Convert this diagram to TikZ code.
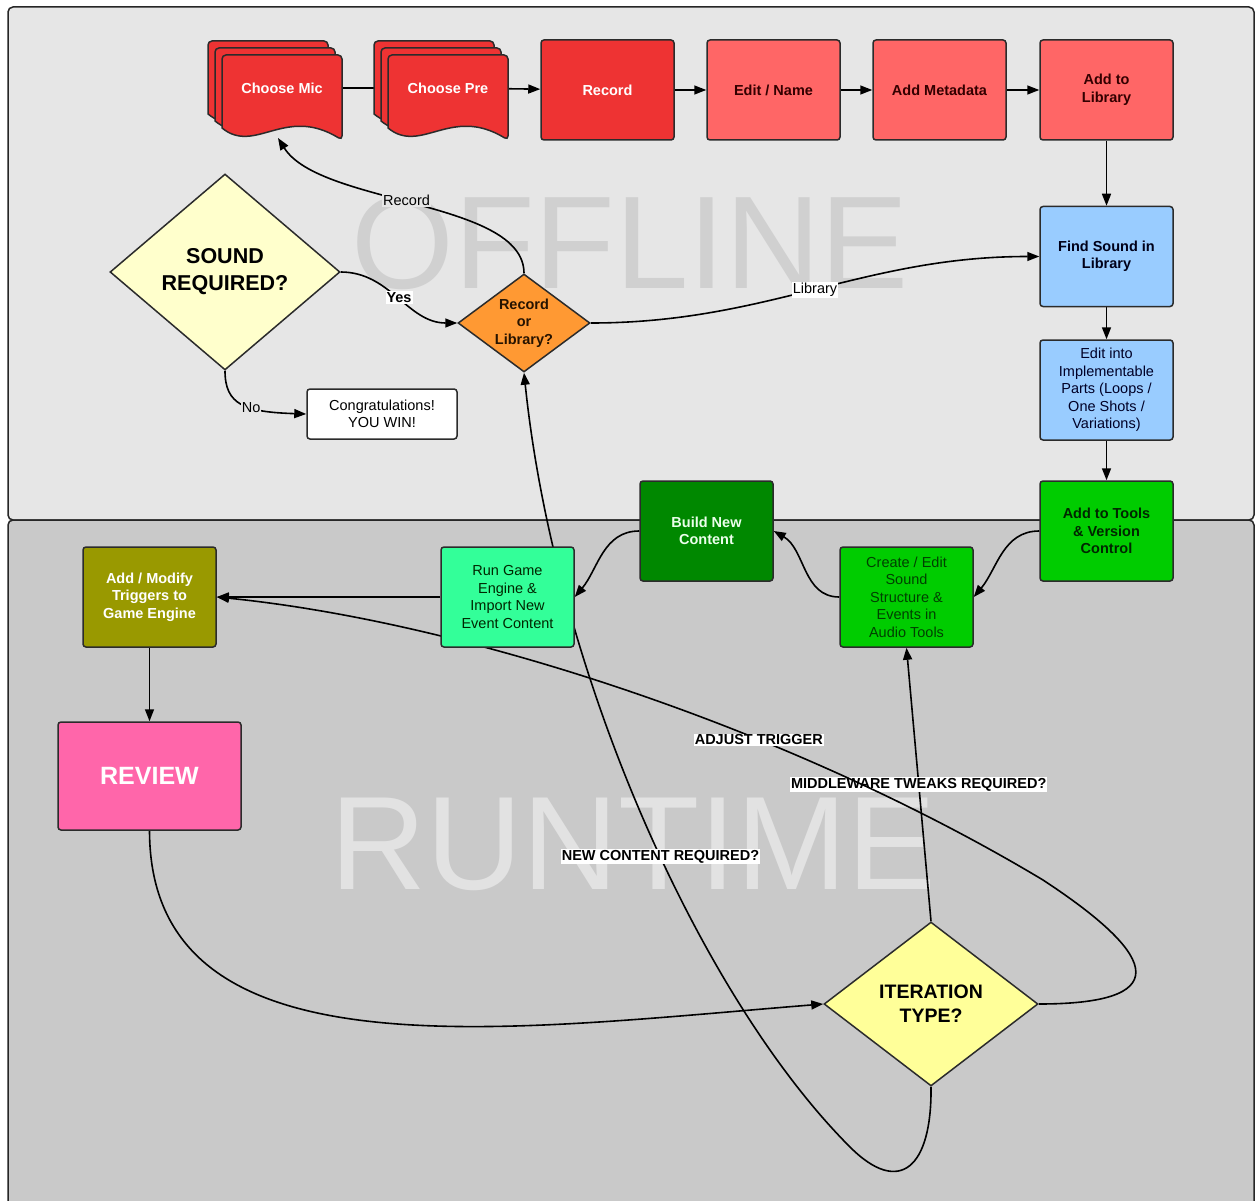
\documentclass[tikz,border=0pt]{standalone}
\usepackage{fontspec}
\setmainfont{Liberation Sans}
\usetikzlibrary{shapes.geometric,arrows.meta}
\pgfdeclarelayer{bg}
\pgfdeclarelayer{fg}
\pgfsetlayers{bg,main,fg}

\definecolor{offbg}{HTML}{E6E6E6}
\definecolor{runbg}{HTML}{C9C9C9}
\definecolor{offmark}{HTML}{D0D0D0}
\definecolor{runmark}{HTML}{E2E2E2}
\definecolor{redbox}{HTML}{EE3333}
\definecolor{salmonbox}{HTML}{FF6666}
\definecolor{bluebox}{HTML}{99CCFF}
\definecolor{greenbox}{HTML}{00CC00}
\definecolor{darkgreenbox}{HTML}{008800}
\definecolor{mintbox}{HTML}{33FF99}
\definecolor{olivebox}{HTML}{999900}
\definecolor{pinkbox}{HTML}{FF66AA}
\definecolor{orangebox}{HTML}{FF9933}
\definecolor{paleyellow}{HTML}{FFFFCC}
\definecolor{yellowbox}{HTML}{FFFF99}
\definecolor{boxline}{HTML}{2B2B2B}

\newcommand{\boxfont}{\fontsize{14.5}{17.5}\selectfont}

\tikzset{
    box/.style={rectangle, rounded corners=3pt, draw=boxline, line width=1.5pt,
        minimum width=133pt, minimum height=100pt, align=center, font=\boxfont},
    boldbox/.style={box, font=\boxfont\bfseries},
    decision/.style={diamond, draw=boxline, line width=1.5pt, align=center, inner sep=0pt},
    docnode/.style={minimum width=120pt, inner sep=0pt, text=white, font=\boxfont\bfseries},
    docshape/.style={fill=redbox, draw=boxline, line width=1.5pt},
    panel/.style={draw=black!85, line width=1.5pt, rounded corners=5pt},
    arr/.style={black, line width=1.6pt, -{Triangle[length=12pt,width=9pt]}},
    lbl/.style={fill=white, inner sep=1pt, font=\boxfont},
}

\begin{document}
\begin{tikzpicture}[x=1pt, y=-1pt]
    \useasboundingbox (0,0) rectangle (1255,1201);

    \begin{pgfonlayer}{bg}
        \fill[white] (0,0) rectangle (1255,1201);
        \draw[panel, fill=offbg] (8,7) rectangle (1254,520);
        \draw[panel, fill=runbg] (8,520) rectangle (1254,1215);
        \node[font=\fontsize{132}{132}\selectfont, text=offmark, inner sep=0pt] (offlinetitle) at (630,243) {OFFLINE};
        \node[font=\fontsize{133}{133}\selectfont, text=runmark, inner sep=0pt] (runtimetitle) at (633,844) {RUNTIME};
    \end{pgfonlayer}

    % stacked documents
    \foreach \x in {222,388} {
        \foreach \d in {14,7,0} {
            \draw[docshape] ({\x-\d},{128-\d}) [rounded corners=4pt] -- ({\x-\d},{55-\d}) -- ({\x-\d+120},{55-\d})
                -- ({\x-\d+120},{140-\d}) [sharp corners] .. controls ({\x-\d+63},{105-\d}) and ({\x-\d+33},{155-\d}) .. ({\x-\d},{128-\d}) -- cycle;
        }
    }

    \node[docnode] (mic) at (282,88) {Choose Mic};
    \node[docnode] (pre) at (448,88) {Choose Pre};
    \coordinate (micfoot) at (278,138);
    \node[boldbox, fill=redbox, text=white] (rec) at (607.5,90) {Record};
    \node[boldbox, fill=salmonbox, text=black!80!red] (editname) at (773.5,90) {Edit / Name};
    \node[boldbox, fill=salmonbox, text=black!80!red] (meta) at (939.5,90) {Add Metadata};
    \node[boldbox, fill=salmonbox, text=black!80!red] (addlib) at (1106.5,90) {Add to\\Library};

    \node[boldbox, fill=bluebox, text=black!90!blue] (findlib) at (1106.5,256.5) {Find Sound in\\Library};
    \node[box, fill=bluebox, text=black!85!blue] (implparts) at (1106.5,390) {Edit into\\Implementable\\Parts (Loops /\\One Shots /\\Variations)};
    \node[boldbox, fill=greenbox, text=black!85!green] (addtools) at (1106.5,531) {Add to Tools\\\& Version\\Control};
    \node[box, fill=greenbox, text=black!75!green] (createedit) at (906.5,597) {Create / Edit\\Sound\\Structure \&\\Events in\\Audio Tools};
    \node[boldbox, fill=darkgreenbox, text=white!92!green] (buildnew) at (706.5,531) {Build New\\Content};
    \node[box, fill=mintbox, text=black!85!green] (rungame) at (507.5,597) {Run Game\\Engine \&\\Import New\\Event Content};
    \node[boldbox, fill=olivebox, text=white] (addmodify) at (149.5,597) {Add / Modify\\Triggers to\\Game Engine};
    \node[boldbox, fill=pinkbox, text=white, minimum width=183pt, minimum height=108pt,
        font=\fontsize{25}{30}\selectfont\bfseries] (review) at (149.5,776) {REVIEW};

    \node[decision, fill=paleyellow, minimum width=230pt, minimum height=196pt, aspect=1.17,
        font=\fontsize{21.5}{27}\selectfont\bfseries] (soundreq) at (225,272) {SOUND\\REQUIRED?};
    \node[decision, fill=orangebox, minimum width=132pt, minimum height=98pt, aspect=1.35,
        font=\boxfont\bfseries, text=black!85!orange] (reclib) at (524,323) {Record\\or\\Library?};
    \node[box, fill=white, minimum width=150pt, minimum height=50pt] (congrats) at (382,414) {Congratulations!\\YOU WIN!};
    \node[decision, fill=yellowbox, minimum width=214pt, minimum height=164pt, aspect=1.3,
        font=\fontsize{19.5}{24}\selectfont\bfseries] (itertype) at (931,1004) {ITERATION\\TYPE?};

    \begin{pgfonlayer}{bg}
        \draw[arr] (mic) -- (pre);
        \draw[arr] (pre) -- (rec);
        \draw[arr] (rec) -- (editname);
        \draw[arr] (editname) -- (meta);
        \draw[arr] (meta) -- (addlib);
        \draw[arr] (addlib) -- (findlib);
        \draw[arr] (findlib) -- (implparts);
        \draw[arr] (implparts) -- (addtools);
        \draw[arr] (addtools.west) to[out=180, in=50] (createedit.east);
        \draw[arr] (createedit.west) to[out=180, in=-30] (buildnew.east);
        \draw[arr] (buildnew.west) to[out=180, in=50] (rungame.east);
        \draw[arr] (rungame) -- (addmodify);
        \draw[arr] (addmodify) -- (review);
        \draw[arr] (review.south) .. controls (150,1080) and (500,1030) .. (itertype.west);

        \draw[arr] (soundreq.east) to[out=0, in=180] node[lbl, font=\boxfont\bfseries] {Yes} (reclib.west);
        \draw[arr] (soundreq.south) .. controls (225,405) and (245,412) .. (congrats.west)
            node[lbl, fill=offbg, pos=0.6] {No};
        \draw[arr] (reclib.north) .. controls (524,200) and (320,205) .. (micfoot)
            node[lbl, fill=offbg, pos=0.53] {Record};
        \draw[arr] (reclib.east) to[out=0, in=180] node[lbl] {Library} (findlib.west);

        \draw[arr] (itertype.north) -- node[lbl, font=\boxfont\bfseries] {MIDDLEWARE TWEAKS REQUIRED?} (createedit.south);
        \draw[arr] (itertype.east) .. controls (1170,1004) and (1165,960) .. (1043,880)
            .. controls (793,730) and (466,622) .. (addmodify.east)
            node[lbl, font=\boxfont\bfseries, pos=0.35] {ADJUST TRIGGER};
        \draw[arr] (itertype.south) .. controls (932,1167) and (900,1197) .. (850,1147)
            .. controls (700,997) and (555,672) .. (reclib.south)
            node[lbl, font=\boxfont\bfseries, pos=0.45] {NEW CONTENT REQUIRED?};
    \end{pgfonlayer}
\end{tikzpicture}
\end{document}
